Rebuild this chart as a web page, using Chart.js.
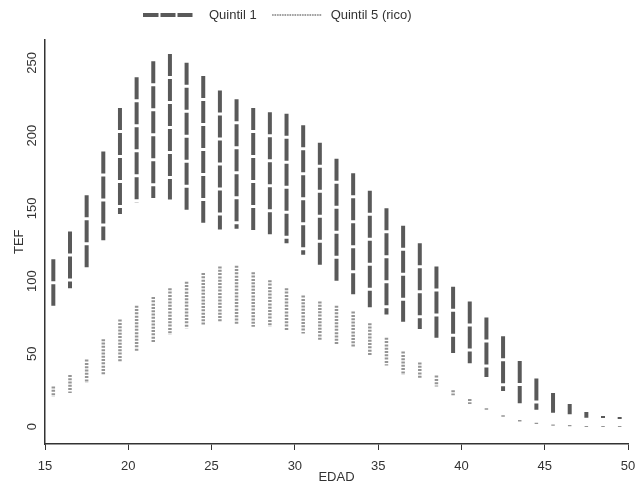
<!DOCTYPE html>
<html>
<head>
<meta charset="utf-8">
<script src="https://cdn.jsdelivr.net/npm/chart.js@4.4.0/dist/chart.umd.min.js"></script>
<style>
  html, body { margin: 0; padding: 0; background: #fff; }
  #wrap { width: 635px; height: 485px; }
</style>
</head>
<body>
<div id="wrap"><canvas id="chart"></canvas></div>
<script>
// EDAD (age) positions of each vertical range
const ages = [15.5, 16.5, 17.5, 18.5, 19.5, 20.5, 21.5, 22.5, 23.5, 24.5,
              25.5, 26.5, 27.5, 28.5, 29.5, 30.5, 31.5, 32.5, 33.5, 34.5,
              35.5, 36.5, 37.5, 38.5, 39.5, 40.5, 41.5, 42.5, 43.5, 44.5,
              45.5, 46.5, 47.5, 48.5, 49.5];

// Quintil 1: top and bottom of each range (TEF)
const q1High = [115, 134, 159, 189, 219, 240, 251, 256, 250, 241,
                231, 225, 219, 216, 215, 207, 195, 184, 174, 162,
                150, 138, 126, 110, 96, 86, 75, 62, 45, 33,
                23, 15.5, 10, 7.2, 6.5];
const q1Low  = [83, 95, 109, 128, 146, 154, 157, 156, 149, 140,
                135.5, 136, 135, 132, 126, 118, 111, 99, 91, 82,
                77, 72, 67, 61, 50.5, 43.5, 34, 24.5, 16, 11.5,
                9.5, 8.5, 6, 5.8, 5.2];

// Quintil 5 (rico)
const q5High = [27.5, 35.5, 46, 60, 73.5, 83, 89, 95, 99.5, 105.5,
                110, 110.5, 106, 100.5, 95, 90, 86, 83, 79, 71,
                61, 51.5, 44, 35, 25, 19, 12.5, 7.7, 4.5, 2.6,
                1.4, 1, 0.4, 0.4, 0.4];
const q5Low  = [20.5, 23, 30, 36, 44.5, 52, 58, 63, 67.5, 70,
                72, 70, 68.5, 68.5, 66, 64, 59.5, 56, 54.5, 49,
                42, 35.5, 33, 27.5, 21.5, 15.5, 11.5, 6.7, 3.5, 1.8,
                0.6, 0.2, -0.4, -0.4, -0.4];

const xTickValues = [15, 20, 25, 30, 35, 40, 45, 50];
const yTickValues = [0, 50, 100, 150, 200, 250];

// one segment per age, top first so the dash pattern starts at the top
function rangeSegments(lo, hi) {
    const pts = [];
    ages.forEach((a, i) => {
        pts.push({ x: a, y: hi[i] }, { x: a, y: lo[i] }, { x: a, y: null });
    });
    return pts;
}

// little canvases used as legend symbols (line 50px long inside a 59px box)
function legendSymbol(color, width, dash, offset) {
    const c = document.createElement('canvas');
    c.width = 59;
    c.height = 8;
    const g = c.getContext('2d');
    g.strokeStyle = color;
    g.lineWidth = width;
    g.setLineDash(dash);
    g.beginPath();
    g.moveTo(offset, 4);
    g.lineTo(offset + 50, 4);
    g.stroke();
    return c;
}

const q1Color = '#595959';
const q5Color = '#959595';
const legendSymbols = [
    legendSymbol(q1Color, 4, [15, 2], 0),
    legendSymbol(q5Color, 2, [1.5, 1], 7)
];

// make room under the legend and move it a bit to the left, like the original
const legendNudge = {
    id: 'legendNudge',
    beforeInit(chart) {
        const fit = chart.legend.fit;
        chart.legend.fit = function () {
            fit.call(this);
            this.height += 8;
        };
    },
    afterLayout(chart) {
        chart.legend.left -= 40;
        chart.legend.right -= 40;
    }
};

Chart.defaults.font.family = '"Liberation Sans", Arial, sans-serif';
Chart.defaults.font.size = 13;
Chart.defaults.color = '#333';

const ctx = document.getElementById('chart').getContext('2d');
new Chart(ctx, {
    type: 'scatter',
    data: {
        datasets: [{
            label: 'Quintil 1',
            data: rangeSegments(q1Low, q1High),
            showLine: true,
            spanGaps: false,
            borderColor: q1Color,
            borderWidth: 4,
            borderDash: [22, 3],
            borderCapStyle: 'butt',
            pointRadius: 0
        }, {
            label: 'Quintil 5 (rico)',
            data: rangeSegments(q5Low, q5High),
            showLine: true,
            spanGaps: false,
            borderColor: q5Color,
            borderWidth: 3.5,
            borderDash: [2, 1.3],
            borderCapStyle: 'butt',
            pointRadius: 0
        }]
    },
    options: {
        responsive: true,
        maintainAspectRatio: false,
        animation: false,
        layout: { padding: { left: 0, right: 0, top: 0, bottom: 0 } },
        plugins: {
            tooltip: { enabled: false },
            legend: {
                position: 'top',
                labels: {
                    usePointStyle: true,
                    pointStyleWidth: 59,
                    padding: 8.5,
                    color: '#333',
                    generateLabels: chart => chart.data.datasets.map((ds, i) => ({
                        text: ds.label,
                        fillStyle: ds.borderColor,
                        strokeStyle: ds.borderColor,
                        lineWidth: 0,
                        pointStyle: legendSymbols[i],
                        fontColor: '#333',
                        datasetIndex: i
                    }))
                }
            }
        },
        scales: {
            x: {
                type: 'linear',
                min: 15,
                max: 50,
                afterBuildTicks: scale => { scale.ticks = xTickValues.map(v => ({ value: v })); },
                afterFit: scale => {
                    scale.height = 41;
                    scale.paddingRight = 7;
                },
                grid: { display: true, drawOnChartArea: false, drawTicks: true, tickLength: 6, color: '#333' },
                border: { display: true, color: '#333', width: 1.5 },
                ticks: { padding: 9, color: '#333' },
                title: { display: true, text: 'EDAD', color: '#333', padding: 0 }
            },
            y: {
                min: -12,
                max: 266,
                afterBuildTicks: scale => { scale.ticks = yTickValues.map(v => ({ value: v })); },
                afterFit: scale => { scale.width = 45; },
                grid: { display: false, drawTicks: false },
                border: { display: true, color: '#333', width: 1.5 },
                ticks: { minRotation: 90, maxRotation: 90, crossAlign: 'center', padding: 2, color: '#333' },
                title: { display: true, text: 'TEF', color: '#333', padding: { top: 12, bottom: 0 } }
            }
        }
    },
    plugins: [legendNudge]
});
</script>
</body>
</html>
